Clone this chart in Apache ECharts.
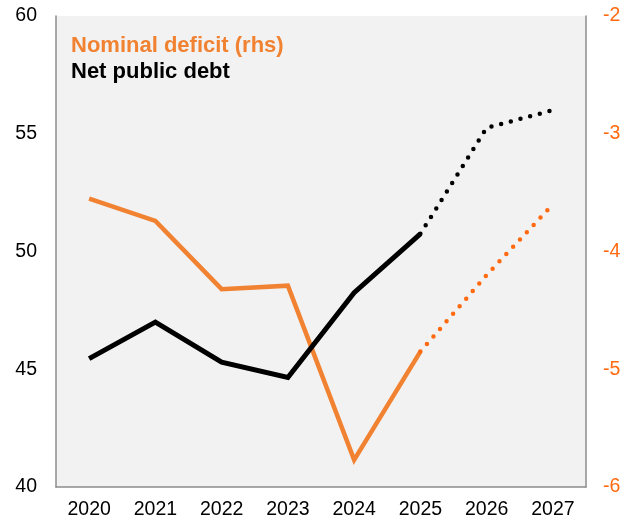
<!DOCTYPE html>
<html>
<head>
<meta charset="utf-8">
<script src="https://cdn.jsdelivr.net/npm/echarts@6/dist/echarts.min.js"></script>
<style>html,body{margin:0;padding:0;background:#fff}#c{width:637px;height:522px}</style>
</head>
<body>
<div id="c"></div>
<script>
const years = ['2020','2021','2022','2023','2024','2025','2026','2027'];
const debtActual = [45.45, 47.0, 45.3, 44.65, 48.25, 50.75, null, null];
const debtForecast = [null, null, null, null, null, 50.75, 55.25, 56.0];
const deficitActual = [-3.55, -3.74, -4.32, -4.29, -5.77, -4.85, null, null];
const deficitForecast = [null, null, null, null, null, -4.85, -4.2, -3.6];
const leftTicks = [40, 45, 50, 55, 60];
const rightTicks = [-6, -5, -4, -3, -2];

const FONT = '"Liberation Sans", Arial, sans-serif';
const chart = echarts.init(document.getElementById('c'), null, {renderer: 'canvas'});
chart.setOption({
  animation: false,
  backgroundColor: '#ffffff',
  grid: {left: 56, right: 51, top: 16, bottom: 35, show: true, backgroundColor: '#f2f2f2', borderWidth: 0},
  title: {
    left: 71, top: 33, padding: 0,
    text: '{a|Nominal deficit (rhs)}\n{b|Net public debt}',
    textStyle: {
      rich: {
        a: {color: '#f08232', fontSize: 22, fontWeight: 'bold', fontFamily: FONT, lineHeight: 26},
        b: {color: '#000000', fontSize: 22, fontWeight: 'bold', fontFamily: FONT, lineHeight: 26}
      }
    }
  },
  xAxis: {
    type: 'category', data: years, boundaryGap: true,
    axisLine: {show: true, lineStyle: {color: '#8c8c8c', width: 1.5}},
    axisTick: {show: false},
    axisLabel: {color: '#000', fontSize: 19.5, fontFamily: FONT, margin: 13}
  },
  yAxis: [
    {
      type: 'value', min: leftTicks[0], max: leftTicks[leftTicks.length-1], interval: 5, position: 'left',
      axisLine: {show: true, lineStyle: {color: '#8c8c8c', width: 1.5}},
      axisTick: {show: false}, splitLine: {show: false},
      axisLabel: {color: '#000', fontSize: 19.5, fontFamily: FONT, margin: 19}
    },
    {
      type: 'value', min: rightTicks[0], max: rightTicks[rightTicks.length-1], interval: 1, position: 'right',
      axisLine: {show: true, lineStyle: {color: '#8c8c8c', width: 1.5}},
      axisTick: {show: false}, splitLine: {show: false},
      axisLabel: {color: '#ff6a10', fontSize: 19.5, fontFamily: FONT, margin: 17}
    }
  ],
  series: [
    {type: 'line', yAxisIndex: 1, data: deficitActual, symbol: 'none', connectNulls: false,
     lineStyle: {color: '#f08232', width: 4.5, join: 'miter'}, z: 2},
    {type: 'line', yAxisIndex: 1, data: deficitForecast, symbol: 'none',
     lineStyle: {color: '#ff6a10', width: 4.5, type: [0, 10], cap: 'round'}, z: 2},
    {type: 'line', yAxisIndex: 0, data: debtActual, symbol: 'none',
     lineStyle: {color: '#000000', width: 5, join: 'miter'}, z: 3},
    {type: 'line', yAxisIndex: 0, data: debtForecast, symbol: 'none',
     lineStyle: {color: '#000000', width: 4.5, type: [0, 10], cap: 'round'}, z: 3}
  ]
});
</script>
</body>
</html>
